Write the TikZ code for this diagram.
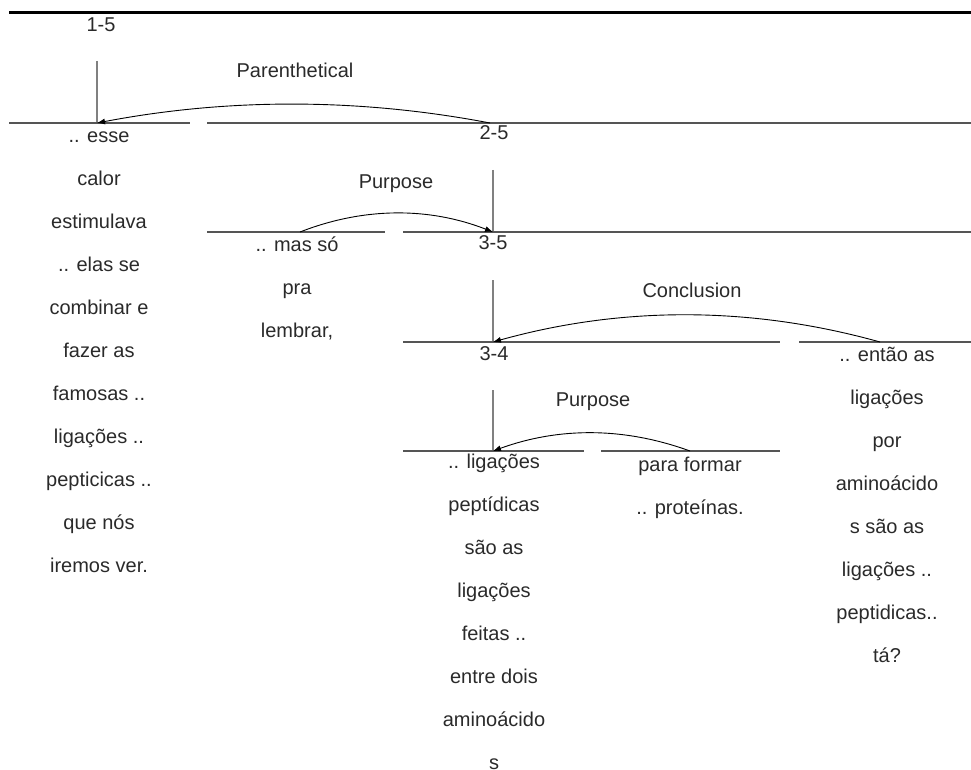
\documentclass[tikz,border=0pt]{standalone}
\usepackage{fontspec}
\setmainfont{Liberation Sans}
\usetikzlibrary{arrows.meta}
\definecolor{hline}{HTML}{555555}
\definecolor{vline}{HTML}{808080}
\definecolor{txt}{HTML}{2A2A2A}
\tikzset{
  hseg/.style={draw=hline, line width=2pt},
  vseg/.style={draw=vline, line width=1.3pt},
  rel/.style={draw=black, line width=0.9pt, -{Latex[length=8pt,width=6pt]}},
  lbl/.style={anchor=base, inner sep=0pt, text=txt, font=\fontsize{20}{43}\selectfont},
  col/.style={anchor=base, inner sep=0pt, align=center, text=txt, font=\fontsize{20}{43}\selectfont},
}
\begin{document}
\begin{tikzpicture}[x=1pt,y=-1pt]
\useasboundingbox (0,0) rectangle (971,770);
% top rule
\draw[black, line width=3pt] (9,13) -- (971,13);

% span labels
\node[lbl] (s15) at (101,32) {1-5};
\node[lbl] (s25) at (494,140) {2-5};
\node[lbl] (s35) at (493,249) {3-5};
\node[lbl] (s34) at (494,360) {3-4};

% relation names
\node[lbl] (rpar) at (295,78) {Parenthetical};
\node[lbl] (rpur1) at (396,189) {Purpose};
\node[lbl] (rcon) at (692,297) {Conclusion};
\node[lbl] (rpur2) at (593,406) {Purpose};

% vertical stems
\coordinate (v15t) at (97,61);  \coordinate (v15b) at (97,123);
\coordinate (v25t) at (493,170); \coordinate (v25b) at (493,232);
\coordinate (v35t) at (493,280); \coordinate (v35b) at (493,342);
\coordinate (v34t) at (493,390); \coordinate (v34b) at (493,451);
\draw[vseg] (v15t) -- (v15b);
\draw[vseg] (v25t) -- (v25b);
\draw[vseg] (v35t) -- (v35b);
\draw[vseg] (v34t) -- (v34b);

% horizontal segments
\coordinate (h1a) at (9,123);   \coordinate (h1b) at (190,123);
\coordinate (h1c) at (207,123); \coordinate (h1d) at (971,123);
\coordinate (h2a) at (207,232); \coordinate (h2b) at (385,232);
\coordinate (h2c) at (403,232); \coordinate (h2d) at (971,232);
\coordinate (h3a) at (403,342); \coordinate (h3b) at (780,342);
\coordinate (h3c) at (799,342); \coordinate (h3d) at (971,342);
\coordinate (h4a) at (403,451); \coordinate (h4b) at (584,451);
\coordinate (h4c) at (601,451); \coordinate (h4d) at (780,451);
\draw[hseg] (h1a) -- (h1b);
\draw[hseg] (h1c) -- (h1d);
\draw[hseg] (h2a) -- (h2b);
\draw[hseg] (h2c) -- (h2d);
\draw[hseg] (h3a) -- (h3b);
\draw[hseg] (h3c) -- (h3d);
\draw[hseg] (h4a) -- (h4b);
\draw[hseg] (h4c) -- (h4d);

% text columns (anchor = baseline of the last line)
\node[col] (c1) at (99,572) {.. esse\\calor\\estimulava\\.. elas se\\combinar e\\fazer as\\famosas ..\\ligações ..\\pepticicas ..\\que nós\\iremos ver.};
\node[col] (c2) at (297,337) {.. mas só\\pra\\lembrar,};
\node[col] (c3) at (494,769) {.. ligações\\peptídicas\\são as\\ligações\\feitas ..\\entre dois\\aminoácido\\s};
\node[col] (c4) at (690,514) {para formar\\.. proteínas.};
\node[col] (c5) at (887,662) {.. então as\\ligações\\por\\aminoácido\\s são as\\ligações ..\\peptidicas..\\tá?};

% relation arcs
\coordinate (a1s) at (490,123); \coordinate (a1e) at (97,123);
\coordinate (a2s) at (300,232); \coordinate (a2e) at (493,232);
\coordinate (a3s) at (880,342); \coordinate (a3e) at (493,342);
\coordinate (a4s) at (690,451); \coordinate (a4e) at (493,451);
\draw[rel] (a1s) .. controls (359,98) and (228,98) .. (a1e);
\draw[rel] (a2s) .. controls (364,207) and (429,207) .. (a2e);
\draw[rel] (a3s) .. controls (751,306) and (622,306) .. (a3e);
\draw[rel] (a4s) .. controls (624,427) and (559,427) .. (a4e);
\end{tikzpicture}
\end{document}
